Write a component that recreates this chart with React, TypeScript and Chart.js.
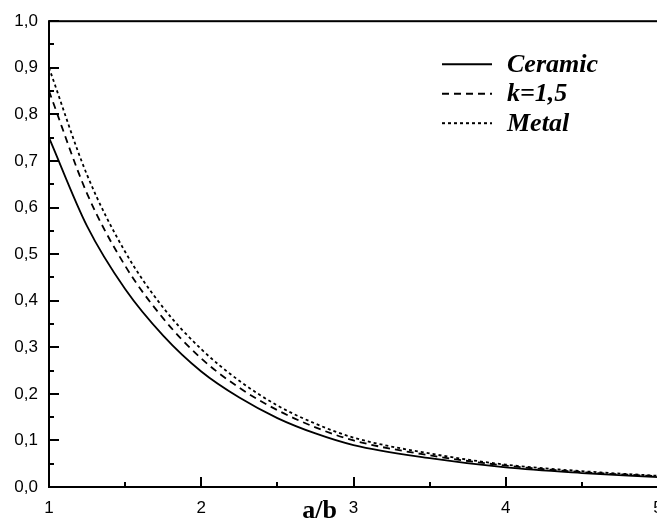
import React, { useEffect, useRef } from "react";
import { Chart, registerables } from "chart.js";

Chart.register(...registerables);

// Ratio a/b along the horizontal axis
const xValues = [1, 1.25, 1.5, 1.75, 2, 2.25, 2.5, 2.75, 3, 3.5, 4, 4.5, 5];

// Curves for the three materials
const ceramic = [0.75, 0.56, 0.425, 0.325, 0.248, 0.192, 0.148, 0.115, 0.09, 0.062, 0.042, 0.03, 0.021];
const k15 = [0.85, 0.63, 0.475, 0.362, 0.276, 0.213, 0.165, 0.128, 0.1, 0.068, 0.046, 0.032, 0.023];
const metal = [0.9, 0.67, 0.505, 0.385, 0.296, 0.228, 0.175, 0.136, 0.106, 0.072, 0.048, 0.034, 0.024];

const seriesLabels = ["Ceramic", "k=1,5", "Metal"];
const seriesDashes: number[][] = [[], [7, 5], [3, 3]];
const xAxisTitle = "a/b";

const xRange = [1, 5];
const yRange = [0, 1];

const toPoints = (ys: number[]) => xValues.map((x, i) => ({ x, y: ys[i] }));

// Frame, inward ticks, legend and axis title
const decorations = {
  id: "decorations",
  afterDraw(chart: any) {
    const { ctx, chartArea, scales } = chart;
    const { left, right, top, bottom } = chartArea;
    const xs = scales.x;
    const ys = scales.y;
    ctx.save();
    ctx.strokeStyle = "#000";
    ctx.lineWidth = 2;
    ctx.setLineDash([]);
    ctx.strokeRect(left, top, right - left, bottom - top);

    const seg = (x1: number, y1: number, x2: number, y2: number) => {
      ctx.beginPath();
      ctx.moveTo(x1, y1);
      ctx.lineTo(x2, y2);
      ctx.stroke();
    };
    for (let i = 0; i <= 20; i++) {
      const py = Math.round(ys.getPixelForValue(yRange[0] + i * 0.05));
      seg(left, py, left + (i % 2 === 0 ? 10 : 5), py);
    }
    for (let i = 0; i <= 8; i++) {
      const px = Math.round(xs.getPixelForValue(xRange[0] + i * 0.5));
      seg(px, bottom, px, bottom - (i % 2 === 0 ? 10 : 5));
    }

    // legend
    ctx.fillStyle = "#000";
    ctx.font = "italic bold 26px 'Liberation Serif'";
    ctx.textBaseline = "middle";
    ctx.textAlign = "left";
    chart.data.datasets.forEach((ds: any, i: number) => {
      const yy = top + 43 + i * 29.5;
      ctx.lineWidth = 2;
      ctx.setLineDash(ds.borderDash || []);
      seg(right - 216, yy, right - 166, yy);
      ctx.setLineDash([]);
      ctx.fillText(ds.label, right - 151, yy + 1);
    });

    // axis title
    ctx.font = "bold 26px 'Liberation Serif'";
    ctx.textAlign = "center";
    ctx.fillText(xAxisTitle, (left + right) / 2 - 34, bottom + 24);
    ctx.restore();
  },
};

export default function App() {
  const ref = useRef<HTMLCanvasElement>(null);

  useEffect(() => {
    if (!ref.current) return;
    const datasets = [ceramic, k15, metal].map((ys, i) => ({
      label: seriesLabels[i],
      data: toPoints(ys),
      borderColor: "#000",
      backgroundColor: "#000",
      borderWidth: 1.8,
      borderDash: seriesDashes[i],
      pointRadius: 0,
      cubicInterpolationMode: "monotone" as const,
      fill: false,
    }));
    const chart = new Chart(ref.current, {
      type: "line",
      data: { datasets },
      options: {
        animation: false,
        responsive: false,
        devicePixelRatio: 1,
        layout: { padding: { top: 20, right: 22, left: 0, bottom: 0 } },
        plugins: { legend: { display: false }, tooltip: { enabled: false } },
        scales: {
          x: {
            type: "linear",
            min: xRange[0],
            max: xRange[1],
            grid: { display: false, drawTicks: false },
            border: { display: false },
            ticks: {
              stepSize: 1,
              padding: 11,
              color: "#000",
              font: { family: "'Liberation Sans'", size: 17 },
              callback: (v: any) => String(v),
            },
            afterFit: (s: any) => {
              s.height = 35;
            },
          },
          y: {
            min: yRange[0],
            max: yRange[1],
            grid: { display: false, drawTicks: false },
            border: { display: false },
            ticks: {
              stepSize: 0.1,
              padding: 11,
              color: "#000",
              font: { family: "'Liberation Sans'", size: 17 },
              callback: (v: any) => Number(v).toFixed(1).replace(".", ","),
            },
            afterFit: (s: any) => {
              s.width = 49;
            },
          },
        },
      },
      plugins: [decorations],
    });
    return () => chart.destroy();
  }, []);

  return (
    <div
      style={{
        position: "absolute",
        left: 0,
        top: 0,
        width: 657,
        height: 522,
        overflow: "hidden",
        background: "#fff",
      }}
    >
      <canvas ref={ref} width={680} height={522} style={{ display: "block" }} />
    </div>
  );
}
